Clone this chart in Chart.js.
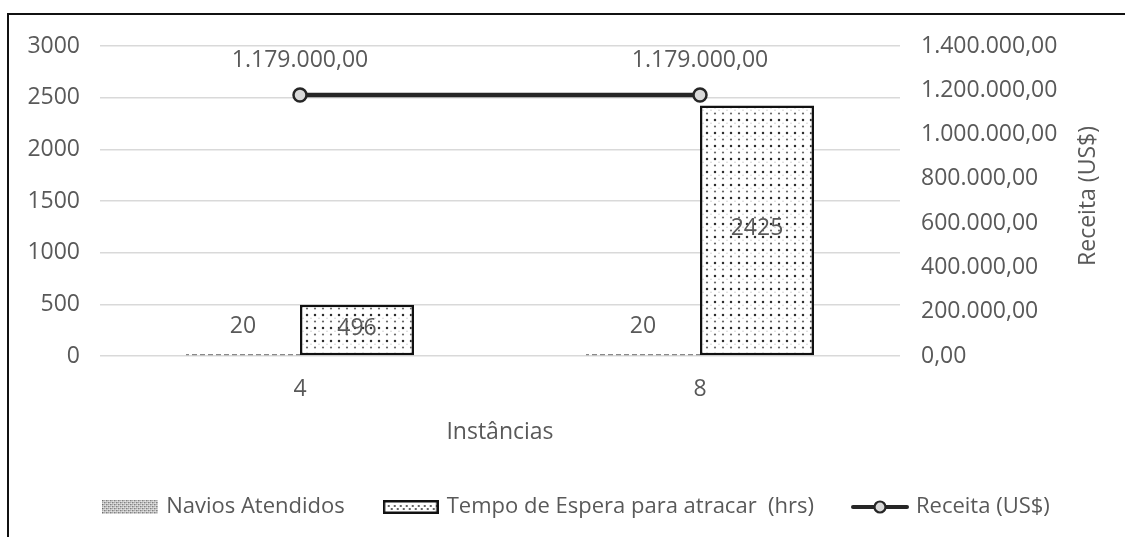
<!DOCTYPE html>
<html>
<head>
<meta charset="utf-8">
<script src="https://cdn.jsdelivr.net/npm/chart.js@4/dist/chart.umd.min.js"></script>
<style>
  html, body { margin: 0; padding: 0; background: #ffffff; }
  #wrap { position: relative; width: 1125px; height: 537px; overflow: hidden; }
  #frame { position: absolute; left: 7px; top: 13px; width: 1130px; height: 540px;
           border-left: 2px solid #111; border-top: 2px solid #111; pointer-events: none; }
  canvas { position: absolute; left: 0; top: 0; }
</style>
</head>
<body>
<div id="wrap">
  <canvas id="chart" width="1125" height="537"></canvas>
  <div id="frame"></div>
</div>
<script>
// Categories and series
const instancias = ['4', '8'];
const naviosAtendidos = [20, 20];
const tempoEspera = [496, 2425];
const receita = [1179000, 1179000];

// Axis ranges
const leftTicks = { min: 0, max: 3000, step: 500 };
const rightTicks = { min: 0, max: 1400000, step: 200000 };

const TEXT = '#595959';
const FONT = '"Open Sans", Lato, sans-serif';
const FSIZE = 23;
const LEGEND_SIZE = 22;

function fmtBR(v) {
  const fixed = Number(v).toFixed(2);
  const [ip, dp] = fixed.split('.');
  return ip.replace(/\B(?=(\d{3})+(?!\d))/g, '.') + ',' + dp;
}

// Fill patterns
function dashPattern() {
  const c = document.createElement('canvas');
  c.width = 8; c.height = 2;
  const x = c.getContext('2d');
  x.fillStyle = '#8a8a8a';
  x.fillRect(0, 0, 5, 2);
  return c;
}
function dotPattern() {
  const c = document.createElement('canvas');
  c.width = 8; c.height = 13;
  const x = c.getContext('2d');
  x.fillStyle = '#ffffff';
  x.fillRect(0, 0, 8, 13);
  const dots = [[3, 3, '#2e2e2e', 1.25], [3, 9.5, '#6a6a6a', 1.1], [7, 6.3, '#c4c4c4', 0.7]];
  dots.forEach(([px, py, col, r]) => {
    x.fillStyle = col;
    x.beginPath(); x.arc(px, py, r, 0, Math.PI * 2); x.fill();
  });
  return c;
}
const ctx = document.getElementById('chart').getContext('2d');
const dashFill = ctx.createPattern(dashPattern(), 'repeat');
const dotFill = ctx.createPattern(dotPattern(), 'repeat');

// Legend swatches
function swatchNavios() {
  const c = document.createElement('canvas');
  c.width = 56; c.height = 14;
  const x = c.getContext('2d');
  for (let i = 0; i < 56; i += 2) {
    for (let j = 0; j < 14; j += 2) {
      x.fillStyle = ((i + j) % 4 === 0) ? '#6e6e6e' : '#a8a8a8';
      x.fillRect(i, j, 1.5, 1.5);
    }
  }
  return c;
}
function swatchTempo() {
  const c = document.createElement('canvas');
  c.width = 56; c.height = 14;
  const x = c.getContext('2d');
  x.fillStyle = '#ffffff'; x.fillRect(0, 0, 56, 14);
  x.fillStyle = '#666';
  for (let i = 5; i < 54; i += 6) { x.fillRect(i, 5, 2, 2); x.fillRect(i + 3, 8, 2, 2); }
  x.strokeStyle = '#111'; x.lineWidth = 2.5;
  x.strokeRect(1.25, 1.25, 53.5, 11.5);
  return c;
}
function swatchReceita() {
  const c = document.createElement('canvas');
  c.width = 58; c.height = 16;
  const x = c.getContext('2d');
  x.strokeStyle = '#262626'; x.lineWidth = 4; x.lineCap = 'round';
  x.beginPath(); x.moveTo(2, 8); x.lineTo(56, 8); x.stroke();
  x.fillStyle = '#d9d9d9'; x.lineWidth = 2.2;
  x.beginPath(); x.arc(29, 8, 5.5, 0, Math.PI * 2); x.fill(); x.stroke();
  return c;
}
const swatches = [swatchNavios(), swatchTempo(), swatchReceita()];

// Value labels on bars and line points
const valueLabels = {
  id: 'valueLabels',
  afterDatasetsDraw(chart) {
    const c = chart.ctx;
    c.save();
    c.font = FSIZE + 'px ' + FONT;
    c.fillStyle = TEXT;
    c.textAlign = 'center';
    c.textBaseline = 'middle';
    chart.data.datasets.forEach((ds, di) => {
      const meta = chart.getDatasetMeta(di);
      meta.data.forEach((el, i) => {
        const v = ds.data[i];
        if (di === 0) {
          c.fillText(String(v), el.x, el.y - 27);
        } else if (di === 1) {
          c.fillText(String(v), el.x, (el.y + el.base) / 2 - 2);
        } else {
          c.fillText(fmtBR(v), el.x, el.y - 34);
        }
      });
    });
    c.restore();
  }
};

// Secondary axis title, reading bottom to top
const rightTitle = {
  id: 'rightTitle',
  afterDraw(chart) {
    const c = chart.ctx;
    const s = chart.scales.y1;
    c.save();
    c.font = FSIZE + 'px ' + FONT;
    c.fillStyle = TEXT;
    c.textAlign = 'center';
    c.textBaseline = 'middle';
    c.translate(1088, (s.top + s.bottom) / 2 - 5);
    c.rotate(-Math.PI / 2);
    c.fillText('Receita (US$)', 0, 0);
    c.restore();
  }
};

// Nudge the legend row to the right so it centres under the framed area
const legendShift = {
  id: 'legendShift',
  afterLayout(chart) {
    if (chart.legend) { chart.legend.left += 15; chart.legend.right += 15; }
  }
};

new Chart(ctx, {
  data: {
    labels: instancias,
    datasets: [
      {
        type: 'bar', label: 'Navios Atendidos', data: naviosAtendidos,
        backgroundColor: dashFill, borderWidth: 0, yAxisID: 'y', order: 1
      },
      {
        type: 'bar', label: 'Tempo de Espera para atracar  (hrs)', data: tempoEspera,
        backgroundColor: dotFill, borderColor: '#111', borderWidth: 2.5,
        borderSkipped: false, yAxisID: 'y', order: 2
      },
      {
        type: 'line', label: 'Receita (US$)', data: receita, yAxisID: 'y1', order: 0,
        borderColor: '#262626', borderWidth: 4.5,
        pointRadius: 6.5, pointBackgroundColor: '#d9d9d9',
        pointBorderColor: '#262626', pointBorderWidth: 2.5
      }
    ]
  },
  options: {
    responsive: false,
    animation: false,
    devicePixelRatio: 1,
    layout: { padding: { top: 46, left: 0, right: 0, bottom: 9 } },
    datasets: { bar: { categoryPercentage: 0.57, barPercentage: 1.0 } },
    plugins: {
      tooltip: { enabled: false },
      legend: {
        position: 'bottom',
        labels: {
          usePointStyle: true,
          pointStyleWidth: 50,
          boxHeight: 14,
          padding: 41,
          color: TEXT,
          font: { family: FONT, size: LEGEND_SIZE },
          generateLabels(chart) {
            return chart.data.datasets.map((ds, i) => ({
              text: ds.label,
              pointStyle: swatches[i],
              fontColor: TEXT,
              lineWidth: 0,
              datasetIndex: i,
              hidden: false
            }));
          }
        }
      }
    },
    scales: {
      x: {
        grid: { display: false, drawTicks: false },
        border: { display: false },
        ticks: { color: TEXT, font: { family: FONT, size: FSIZE }, padding: 20 },
        title: { display: true, text: 'Instâncias', color: TEXT,
                 font: { family: FONT, size: FSIZE }, padding: { top: 4, bottom: 9 } },
        afterFit(s) { s.height = 99; }
      },
      y: {
        position: 'left',
        min: leftTicks.min, max: leftTicks.max,
        grid: { color: '#d9d9d9', lineWidth: 1.5, drawTicks: false },
        border: { display: false },
        ticks: { stepSize: leftTicks.step, color: TEXT, font: { family: FONT, size: FSIZE },
                 padding: 20, callback: v => String(v) },
        afterFit(s) { s.width = 100; }
      },
      y1: {
        position: 'right',
        min: rightTicks.min, max: rightTicks.max,
        grid: { display: false, drawTicks: false },
        border: { display: false },
        ticks: { stepSize: rightTicks.step, color: TEXT, font: { family: FONT, size: FSIZE },
                 padding: 21, callback: v => fmtBR(v) },
        afterFit(s) { s.width = 225; }
      }
    }
  },
  plugins: [valueLabels, rightTitle, legendShift]
});
</script>
</body>
</html>
